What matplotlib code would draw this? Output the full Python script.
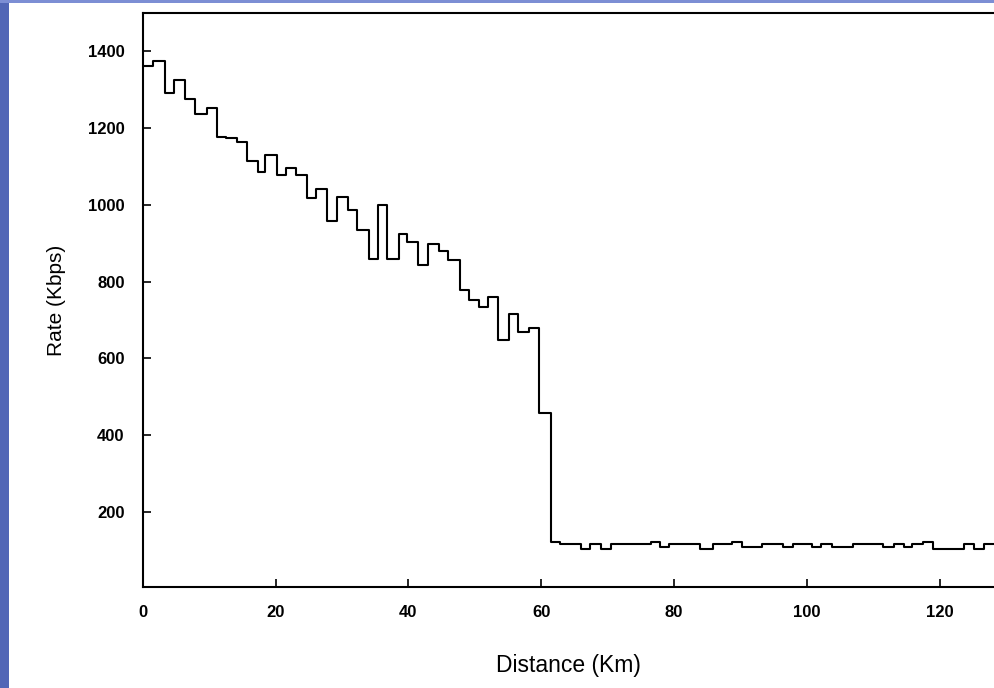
import matplotlib.pyplot as plt
from matplotlib.patches import Rectangle

# step start positions (km) and rate (Kbps) for each step
distance_km = [0, 1.61, 3.37, 4.77, 6.38, 7.89, 9.65, 11.15, 12.55, 14.16,
               15.67, 17.32, 18.42, 20.18, 21.58, 23.09, 24.70, 26.09, 27.80, 29.30,
               30.96, 32.31, 34.12, 35.47, 36.73, 38.63, 39.83, 41.49, 42.90, 44.60,
               46.00, 47.76, 49.16, 50.58, 52.02, 53.44, 55.18, 56.54, 58.19, 59.70,
               61.41, 62.81, 65.93, 67.33, 68.98, 70.49, 76.46, 77.83, 79.26, 83.88,
               85.79, 88.65, 90.16, 93.17, 96.33, 97.83, 100.69, 102.05, 103.70, 106.95,
               111.47, 113.08, 114.58, 115.74, 117.40, 118.90, 123.61, 125.12, 126.62]
rate_kbps = [1361, 1375, 1292, 1326, 1277, 1237, 1253, 1178, 1175, 1163,
             1114, 1085, 1131, 1077, 1096, 1077, 1018, 1042, 958, 1020,
             988, 934, 859, 999, 859, 923, 904, 844, 899, 880,
             856, 778, 752, 733, 761, 648, 717, 668, 679, 457,
             123, 116, 103, 116, 103, 116, 123, 110, 116, 103,
             116, 123, 110, 116, 110, 116, 110, 116, 110, 116,
             110, 116, 110, 116, 123, 103, 116, 103, 116]
end_km = 128.14

x_ticks = [0, 20, 40, 60, 80, 100, 120]
y_ticks = [200, 400, 600, 800, 1000, 1200, 1400]

plt.rcParams['font.family'] = ['Liberation Sans', 'DejaVu Sans']

fig = plt.figure(figsize=(9.94, 6.88), dpi=100)
fig.patch.set_facecolor('white')
# blue slide background showing along the left and top edge
fig.patches.append(Rectangle((0, 0), 9 / 994, 1, transform=fig.transFigure,
                             facecolor='#5166b6', edgecolor='none', zorder=-5))
fig.patches.append(Rectangle((0, 1 - 3 / 688), 1, 3 / 688, transform=fig.transFigure,
                             facecolor='#7c8ed4', edgecolor='none', zorder=-5))

ax = fig.add_axes([0.1435, 0.1464, 0.8565, 0.8347])
ax.step(distance_km + [end_km], rate_kbps + [rate_kbps[-1]], where='post',
        color='black', linewidth=1.5)

ax.set_xlim(0, end_km)
ax.set_ylim(4, 1500)
ax.set_xticks(x_ticks)
ax.set_yticks(y_ticks)
ax.tick_params(direction='in', length=6, width=1.2, pad=13, labelsize=12)
for lab in ax.get_xticklabels() + ax.get_yticklabels():
    lab.set_fontweight('bold')
for side in ['left', 'bottom', 'top']:
    ax.spines[side].set_linewidth(1.5)
ax.spines['right'].set_visible(False)

ax.set_xlabel('Distance (Km)', fontsize=16.5, labelpad=24)
ax.set_ylabel('Rate (Kbps)', fontsize=15, labelpad=16)

fig.savefig('out.png', dpi=100)
